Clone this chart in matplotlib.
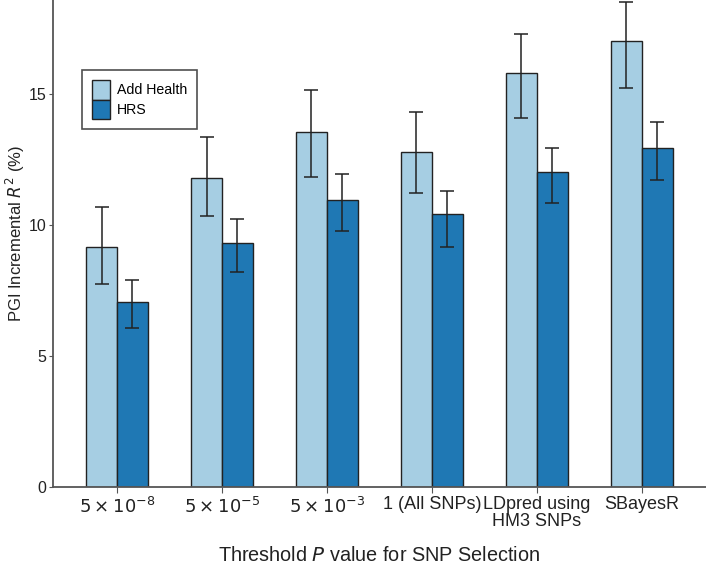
import numpy as np
import matplotlib
matplotlib.use("Agg")
import matplotlib.pyplot as plt

plt.rcParams["font.family"] = ["Liberation Sans", "DejaVu Sans"]
plt.rcParams["mathtext.fontset"] = "dejavusans"

categories = [r"$5\times10^{-8}$", r"$5\times10^{-5}$", r"$5\times10^{-3}$",
              "1 (All SNPs)", "LDpred using\nHM3 SNPs", "SBayesR"]

add_health = [9.14, 11.79, 13.53, 12.76, 15.79, 17.02]
add_health_lo = [7.75, 10.33, 11.83, 11.20, 14.08, 15.22]
add_health_hi = [10.68, 13.35, 15.15, 14.30, 17.30, 18.51]

hrs = [7.06, 9.31, 10.94, 10.40, 12.00, 12.93]
hrs_lo = [6.07, 8.21, 9.77, 9.15, 10.82, 11.72]
hrs_hi = [7.88, 10.22, 11.92, 11.30, 12.92, 13.92]

x = np.arange(len(categories))
w = 0.295

fig = plt.figure(figsize=(7.06, 5.65), dpi=100)
ax = fig.add_axes([0.075, 0.1386, 0.925, 0.8614])

ah = np.array(add_health)
hr = np.array(hrs)
ah_err = [ah - np.array(add_health_lo), np.array(add_health_hi) - ah]
hr_err = [hr - np.array(hrs_lo), np.array(hrs_hi) - hr]

ekw = dict(ecolor="#222222", elinewidth=1.1, capthick=1.1)
ax.bar(x - w/2, ah, w, color="#a6cee3", edgecolor="#222222", linewidth=1,
       yerr=ah_err, capsize=5, error_kw=ekw, label="Add Health")
ax.bar(x + w/2, hr, w, color="#1f78b4", edgecolor="#222222", linewidth=1,
       yerr=hr_err, capsize=5, error_kw=ekw, label="HRS")

ax.set_xlim(-0.61, 5.61)
ax.set_ylim(0, 18.58)
ax.set_yticks([0, 5, 10, 15])
ax.set_xticks(x)
ax.set_xticklabels(categories, fontsize=13, color="#222222", linespacing=1.0)
ax.tick_params(axis="y", labelsize=11.5, colors="#555555", labelcolor="#222222", length=3, pad=2)
ax.tick_params(axis="x", length=4, colors="#555555", labelcolor="#222222", pad=3)

for s in ["top", "right"]:
    ax.spines[s].set_visible(False)
for s in ["left", "bottom"]:
    ax.spines[s].set_color("#555555")
    ax.spines[s].set_linewidth(1.3)

ax.set_ylabel(r"PGI Incremental $R^2$ (%)", fontsize=12, color="#222222")
ax.yaxis.set_label_coords(-0.058, 0.52)
ax.set_xlabel(r"Threshold $P$ value for SNP Selection", fontsize=14.3, color="#222222")
ax.xaxis.set_label_coords(0.5, -0.142)
ax.xaxis.label.set_va("center")
ax.yaxis.label.set_va("center")

leg = ax.legend(loc="upper left", bbox_to_anchor=(0.0445, 0.856), fontsize=10.2,
                frameon=True, fancybox=False, edgecolor="#222222",
                handlelength=1.3, handleheight=1.75, borderpad=0.7, labelspacing=0.0,
                handletextpad=0.45, borderaxespad=0)
leg.get_frame().set_linewidth(1.2)

fig.savefig("out.png", dpi=100)
